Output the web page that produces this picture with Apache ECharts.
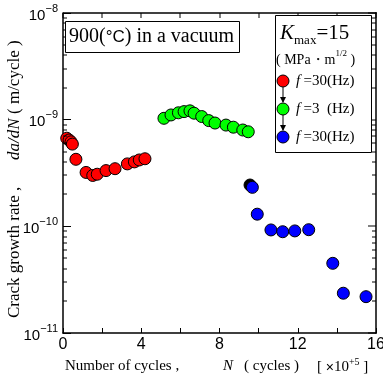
<!DOCTYPE html>
<html><head><meta charset="utf-8">
<script src="https://cdn.jsdelivr.net/npm/echarts@6/dist/echarts.min.js"></script>
<style>html,body{margin:0;padding:0;background:#fff}#c{width:383px;height:378px}</style>
</head><body><div id="c"></div>
<script>
// ---- data (N in units of 1e5 cycles, rate in m/cycle) ----
const redN    = [0.19, 0.31, 0.41, 0.48, 0.66, 1.18, 1.52, 1.75, 2.20, 2.66, 3.29, 3.65, 3.90, 4.19];
const redRate = [6.7e-10, 6.45e-10, 6.2e-10, 5.9e-10, 4.25e-10, 3.2e-10, 3.0e-10, 3.08e-10, 3.33e-10, 3.47e-10, 3.85e-10, 4.02e-10, 4.19e-10, 4.3e-10];
const greenN    = [5.16, 5.52, 5.90, 6.19, 6.49, 6.70, 7.09, 7.45, 7.77, 8.33, 8.71, 9.19, 9.47];
const greenRate = [1.03e-9, 1.107e-9, 1.16e-9, 1.19e-9, 1.21e-9, 1.15e-9, 1.07e-9, 0.98e-9, 0.93e-9, 0.89e-9, 0.85e-9, 0.80e-9, 0.77e-9];
const blackN    = [9.56];
const blackRate = [2.44e-10];
const blueN    = [9.68, 9.93, 10.63, 11.23, 11.85, 12.56, 13.79, 14.33, 15.49];
const blueRate = [2.32e-10, 1.3e-10, 9.25e-11, 8.9e-11, 9.06e-11, 9.3e-11, 4.5e-11, 2.36e-11, 2.19e-11];
const xTickLabels = [0, 4, 8, 12, 16];
const xTickValues = [0, 2, 4, 6, 8, 10, 12, 14, 16];
const yMajorValues = [1e-11, 1e-10, 1e-9, 1e-8];
const minorTickValues = [];
for (const d of [-11, -10, -9]) for (let m = 2; m <= 9; m++) minorTickValues.push(m * Math.pow(10, d));
const X_MIN = 0, X_MAX = 16, Y_MIN = 1e-11, Y_MAX = 1e-8;

const zip = (a, b) => a.map((v, i) => [v, b[i]]);
const SERIF = '"Liberation Serif","Times New Roman",serif';
const SANS = '"Liberation Sans",Arial,sans-serif';

const chart = echarts.init(document.getElementById('c'), null, {renderer: 'canvas'});
const axisLineStyle = {color: '#000', width: 1.5};
const pointStyle = c => ({color: c, borderColor: '#000', borderWidth: 1, opacity: 1});

const baseGraphics = [
  // title box
  {type: 'rect', shape: {x: 65.5, y: 21.5, width: 174, height: 31}, style: {fill: '#fff', stroke: '#000', lineWidth: 1}, z: 10},
  {type: 'text', x: 69, y: 37, z: 11, style: {
    text: '{s|900(}{c|°C}{s|) in a vacuum}', verticalAlign: 'middle',
    rich: {s: {fontFamily: SERIF, fontSize: 20, fill: '#000'}, c: {fontFamily: SANS, fontSize: 17, fill: '#000'}}
  }},
  // legend box
  {type: 'rect', shape: {x: 275.5, y: 15.5, width: 96, height: 137}, style: {fill: '#fff', stroke: '#000', lineWidth: 1}, z: 10},
  {type: 'text', x: 280, y: 35, z: 11, style: {
    text: '{k|K}{m|max}{k2|=15}', verticalAlign: 'middle',
    rich: {
      k: {fontFamily: SERIF, fontStyle: 'italic', fontSize: 21, fill: '#000', lineHeight: 22, verticalAlign: 'top'},
      m: {fontFamily: SERIF, fontSize: 13, fill: '#000', lineHeight: 24, verticalAlign: 'bottom'},
      k2: {fontFamily: SERIF, fontSize: 21, fill: '#000', lineHeight: 22, verticalAlign: 'top'}
    }
  }},
  {type: 'text', x: 276, y: 58, z: 11, style: {
    text: '{a|( MPa・m}{p|1/2}{a| )}', verticalAlign: 'middle',
    rich: {
      a: {fontFamily: SERIF, fontSize: 14, fill: '#000', lineHeight: 18, verticalAlign: 'bottom'},
      p: {fontFamily: SERIF, fontSize: 9, fill: '#000', lineHeight: 9, verticalAlign: 'top'}
    }
  }},
  {type: 'rect', shape: {x: 282.5, y: 87, width: 1, height: 15}, style: {fill: '#000'}, z: 11},
  {type: 'polygon', shape: {points: [[280, 97], [286, 97], [283, 103]]}, style: {fill: '#000'}, z: 11},
  {type: 'rect', shape: {x: 282.5, y: 115, width: 1, height: 15}, style: {fill: '#000'}, z: 11},
  {type: 'polygon', shape: {points: [[280, 125], [286, 125], [283, 131]]}, style: {fill: '#000'}, z: 11},
  {type: 'circle', shape: {cx: 283, cy: 81, r: 6}, style: {fill: '#ff0000', stroke: '#000', lineWidth: 1}, z: 12},
  {type: 'circle', shape: {cx: 283, cy: 109, r: 6}, style: {fill: '#00ff00', stroke: '#000', lineWidth: 1}, z: 12},
  {type: 'circle', shape: {cx: 283, cy: 137, r: 6}, style: {fill: '#0000ff', stroke: '#000', lineWidth: 1}, z: 12},
  {type: 'text', x: 296, y: 81, z: 11, style: {text: '{i|f} {a|=30(Hz)}', verticalAlign: 'middle',
    rich: {i: {fontFamily: SERIF, fontStyle: 'italic', fontSize: 15, fill: '#000'}, a: {fontFamily: SERIF, fontSize: 15, fill: '#000'}}}},
  {type: 'text', x: 296, y: 109, z: 11, style: {text: '{i|f} {a|=3  (Hz)}', verticalAlign: 'middle',
    rich: {i: {fontFamily: SERIF, fontStyle: 'italic', fontSize: 15, fill: '#000'}, a: {fontFamily: SERIF, fontSize: 15, fill: '#000'}}}},
  {type: 'text', x: 296, y: 137, z: 11, style: {text: '{i|f} {a|=30(Hz)}', verticalAlign: 'middle',
    rich: {i: {fontFamily: SERIF, fontStyle: 'italic', fontSize: 15, fill: '#000'}, a: {fontFamily: SERIF, fontSize: 15, fill: '#000'}}}},
  // x axis title
  {type: 'text', x: 65, y: 366, style: {text: 'Number of cycles ,', fontFamily: SERIF, fontSize: 15, fill: '#000', verticalAlign: 'middle'}},
  {type: 'text', x: 223, y: 366, style: {text: 'N', fontFamily: SERIF, fontStyle: 'italic', fontSize: 15, fill: '#000', verticalAlign: 'middle'}},
  {type: 'text', x: 244, y: 366, style: {text: '( cycles )', fontFamily: SERIF, fontSize: 15, fill: '#000', verticalAlign: 'middle'}},
  {type: 'text', x: 317, y: 366, style: {
    text: '{a|[ }{x|×}{a|10}{p|+5}{a| ]}', verticalAlign: 'middle',
    rich: {
      a: {fontFamily: SERIF, fontSize: 15, fill: '#000', lineHeight: 18, verticalAlign: 'bottom'},
      x: {fontFamily: SANS, fontSize: 14, fill: '#000', lineHeight: 18, verticalAlign: 'bottom'},
      p: {fontFamily: SERIF, fontSize: 10, fill: '#000', lineHeight: 10, verticalAlign: 'top'}
    }
  }},
  // y axis title (reads bottom to top)
  {type: 'text', x: 15, y: 318, rotation: Math.PI / 2, style: {
    text: 'Crack growth rate ,', fontFamily: SERIF, fontSize: 17, fill: '#000', align: 'left', verticalAlign: 'middle'}},
  {type: 'text', x: 15, y: 160, rotation: Math.PI / 2, style: {
    text: 'da/dN', fontFamily: SERIF, fontStyle: 'italic', fontSize: 17, fill: '#000', align: 'left', verticalAlign: 'middle'}},
  {type: 'text', x: 15, y: 114, rotation: Math.PI / 2, style: {
    text: '( m/cycle )', fontFamily: SERIF, fontSize: 17, fill: '#000', align: 'left', verticalAlign: 'middle'}}
];

const option = {
  backgroundColor: '#fff',
  animation: false,
  grid: {left: 63, right: 7, top: 13, bottom: 45, containLabel: false, outerBoundsMode: 'none'},
  xAxis: {
    type: 'value', min: X_MIN, max: X_MAX, interval: 2, position: 'bottom',
    axisLine: {show: true, onZero: false, lineStyle: axisLineStyle},
    axisTick: {show: true, inside: true, length: 5, lineStyle: {color: '#000', width: 1}},
    axisLabel: {
      show: true, margin: 4, fontFamily: SANS, fontSize: 16, color: '#000',
      showMaxLabel: true, showMinLabel: true,
      formatter: v => xTickLabels.includes(v) ? String(v) : ''
    },
    splitLine: {show: false}
  },
  yAxis: {
    type: 'log', logBase: 10, min: Y_MIN, max: Y_MAX, position: 'left',
    axisLine: {show: true, onZero: false, lineStyle: axisLineStyle},
    axisTick: {show: true, inside: true, length: 8, lineStyle: {color: '#000', width: 1}},
    axisLabel: {
      show: true, margin: 5, color: '#000',
      formatter: v => {
        const e = Math.round(Math.log10(v));
        return '{b|10}{s|−' + Math.abs(e) + '}';
      },
      rich: {
        b: {fontFamily: SANS, fontSize: 15, lineHeight: 20, verticalAlign: 'bottom', color: '#000'},
        s: {fontFamily: SANS, fontSize: 11, lineHeight: 11, verticalAlign: 'top', color: '#000'}
      }
    },
    splitLine: {show: false}
  },
  series: [
    {type: 'scatter', name: 'f=30(Hz)', data: zip(redN, redRate), symbol: 'circle', symbolSize: 12, itemStyle: pointStyle('#ff0000')},
    {type: 'scatter', name: 'f=3(Hz)', data: zip(greenN, greenRate), symbol: 'circle', symbolSize: 12, itemStyle: pointStyle('#00ff00')},
    {type: 'scatter', name: 'transition', data: zip(blackN, blackRate), symbol: 'circle', symbolSize: 12, itemStyle: pointStyle('#000000')},
    {type: 'scatter', name: 'f=30(Hz) 2', data: zip(blueN, blueRate), symbol: 'circle', symbolSize: 12, itemStyle: pointStyle('#0000ff')}
  ],
  graphic: baseGraphics
};
chart.setOption(option);

// ---- frame (top/right) and mirrored / minor ticks, positioned through the chart's own axis scales ----
const px = (x, y) => chart.convertToPixel({xAxisIndex: 0, yAxisIndex: 0}, [x, y]);
const tickEls = [];
const tl = px(X_MIN, Y_MAX), tr = px(X_MAX, Y_MAX), br = px(X_MAX, Y_MIN);
tickEls.push({type: 'rect', z: 5, shape: {x: tl[0], y: tl[1] - 0.75, width: tr[0] - tl[0] + 0.75, height: 1.5}, style: {fill: '#000'}});
tickEls.push({type: 'rect', z: 5, shape: {x: tr[0] - 0.75, y: tr[1] - 0.75, width: 1.5, height: br[1] - tr[1] + 1.5}, style: {fill: '#000'}});
for (const v of xTickValues) {
  const p = px(v, Y_MAX);
  tickEls.push({type: 'rect', z: 5, shape: {x: Math.round(p[0]) - 0.5, y: p[1], width: 1, height: 5}, style: {fill: '#000'}});
}
for (const v of minorTickValues) {
  const pl = px(X_MIN, v), pr = px(X_MAX, v);
  const y = Math.round(pl[1]) - 0.5;
  tickEls.push({type: 'rect', z: 5, shape: {x: pl[0], y: y, width: 4, height: 1}, style: {fill: '#000'}});
  tickEls.push({type: 'rect', z: 5, shape: {x: pr[0] - 4, y: y, width: 4, height: 1}, style: {fill: '#000'}});
}
for (const v of yMajorValues) {
  const pr = px(X_MAX, v);
  tickEls.push({type: 'rect', z: 5, shape: {x: pr[0] - 8, y: Math.round(pr[1]) - 0.5, width: 8, height: 1}, style: {fill: '#000'}});
}
chart.setOption({graphic: {elements: baseGraphics.concat(tickEls)}});
</script>
</body></html>
